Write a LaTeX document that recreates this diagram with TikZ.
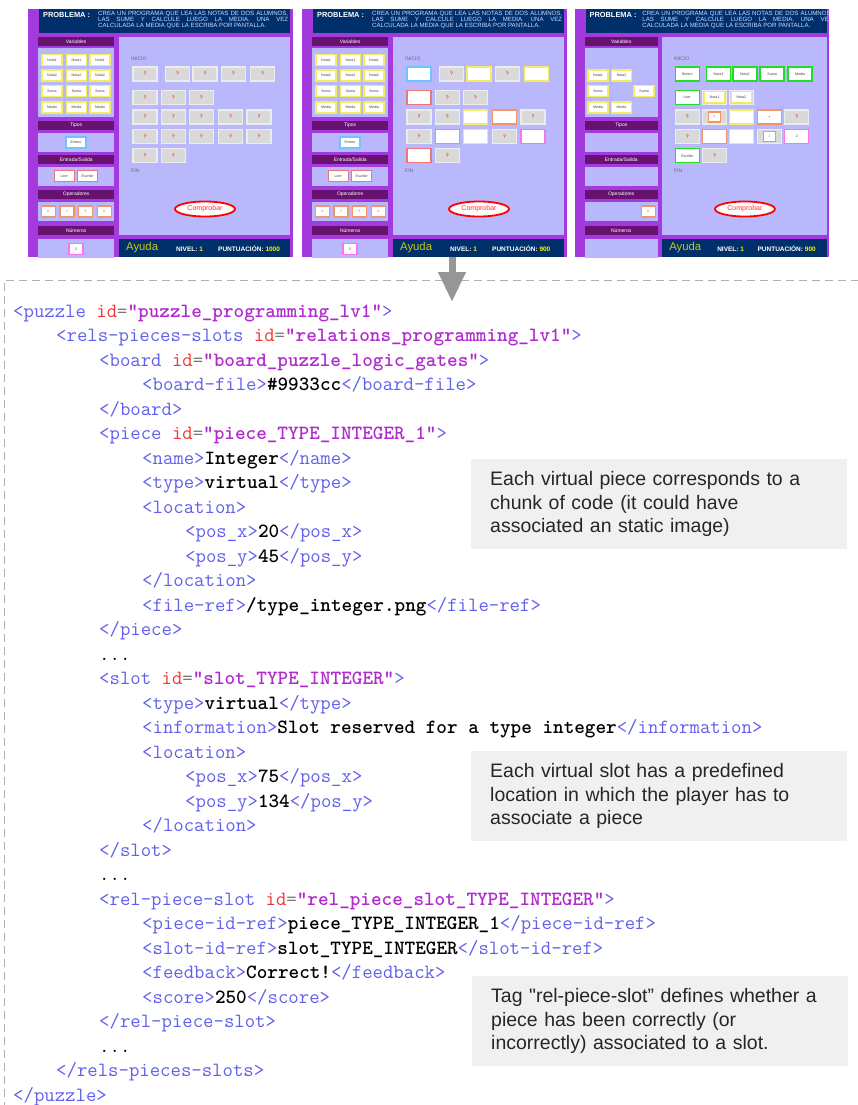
\documentclass[tikz,border=0pt]{standalone}
\usepackage{fontspec}
\setmainfont{Liberation Sans}
\usetikzlibrary{arrows.meta}
\usetikzlibrary{positioning}
\usetikzlibrary{shapes.geometric}

\definecolor{scrpurple}{RGB}{163,58,222}
\definecolor{scrnavy}{RGB}{0,48,108}
\definecolor{scrhead}{RGB}{104,18,112}
\definecolor{scrlav}{RGB}{186,184,252}
\definecolor{probblue}{RGB}{205,220,255}
\definecolor{ayudacol}{RGB}{196,200,20}
\definecolor{varyel}{RGB}{246,236,96}
\definecolor{tipblue}{RGB}{110,196,255}
\definecolor{iored}{RGB}{238,118,118}
\definecolor{oporange}{RGB}{244,148,100}
\definecolor{numpink}{RGB}{248,116,240}
\definecolor{okgreen}{RGB}{34,222,34}
\definecolor{tagcol}{RGB}{96,96,236}
\definecolor{idcol}{RGB}{244,52,52}
\definecolor{valcol}{RGB}{176,42,206}
\definecolor{eqgray}{RGB}{120,120,120}
\definecolor{notegray}{RGB}{240,240,240}
\definecolor{arrgray}{RGB}{150,150,150}

\tikzset{
  hdrtext/.style={inner sep=0pt, text=white, font=\fontsize{5}{5}\selectfont},
  smalltext/.style={anchor=west, inner sep=0pt, text=black!60, font=\fontsize{5}{5}\selectfont},
  pc/.style={draw=#1, fill=white, line width=1.3pt, minimum height=11pt, inner sep=0pt,
    text=black!75, font=\fontsize{3.6}{4}\selectfont},
  qslot/.style={draw=white!85!gray, line width=1.1pt, fill=gray!30, minimum width=24pt,
    minimum height=14pt, inner sep=0pt, text=red!85!black, font=\fontsize{5}{5}\selectfont},
  checkbtn/.style={ellipse, draw=red, line width=1.8pt, fill=white, minimum width=60pt,
    minimum height=15pt, inner sep=0pt, text=red!80, font=\fontsize{7}{7}\selectfont},
  code/.style={anchor=base west, inner sep=0pt, font=\ttfamily\fontsize{20.2}{22}\selectfont},
  note/.style={anchor=north west, fill=notegray, text width=338pt, inner xsep=19pt,
    inner ysep=0pt, minimum height=90pt, align=left, text=black!85,
    font=\fontsize{19.5}{23.3}\selectfont},
  bigarrow/.style={color=arrgray, line width=7pt, -{Triangle[length=30pt,width=26pt]}}
}

% xml colouring
\newcommand{\tg}[1]{\textcolor{tagcol}{#1}}
\newcommand{\ida}{\textcolor{idcol}{id}\textcolor{eqgray}{=}}
\newcommand{\av}[1]{\textcolor{valcol}{\bfseries"#1"}}
\newcommand{\ct}[1]{\textbf{#1}}

% one screenshot of the game: #1 prefix, #2 left x, #3 xscale, #4 score, #5 panel pieces (macro)
\newcommand{\gamescreen}[5]{%
  \begin{scope}[shift={(#2,9)}, xscale=#3]
    \clip (0,0) rectangle (265,248);
    \fill[scrpurple] (0,0) rectangle (265,248);
    \fill[scrnavy] (11,0) rectangle (262,24);
    \node[anchor=west, inner sep=0pt, text=white, font=\fontsize{7.4}{8}\selectfont\bfseries] (#1-prob) at (15,5.5) {PROBLEMA :};
    \node[anchor=north west, inner sep=0pt, align=left, text=probblue, font=\fontsize{6.1}{6}\selectfont] (#1-task) at (70,1.6)
      {\makebox[190pt][s]{CREA UN PROGRAMA QUE LEA LAS NOTAS DE DOS ALUMNOS,}\\
       \makebox[190pt][s]{LAS SUME Y CALCULE LUEGO LA MEDIA. UNA VEZ}\\
       CALCULADA LA MEDIA QUE LA ESCRIBA POR PANTALLA.};
    % left panel
    \foreach \hy/\by/\bh/\hl [count=\i] in {28/39.3/68.7/Variables, 111.7/124.3/18.4/Tipos,
        146/157.7/19.3/{Entrada/Salida}, 181/192.7/19.6/Operadores, 217/229.7/20/Números} {
      \fill[scrhead] (10.3,\hy) rectangle (86,\hy+9);
      \fill[scrlav] (10.3,\by) rectangle (86,\by+\bh);
      \node[hdrtext] (#1-h\i) at (48.2,\hy+4.5) {\hl};
    }
    \foreach \px/\py/\pc/\pw/\pl [count=\i] in #5
      \node[pc=\pc, minimum width=\pw pt] (#1-v\i) at (\px,\py) {\pl};
    % program area
    \fill[scrlav] (91,28.3) rectangle (262,226);
    \node[smalltext] (#1-start) at (103,50) {INICIO};
    \node[smalltext] (#1-end) at (103,162) {FIN};
    \node[smalltext] (#1-semi) at (131.5,68) {;};
    \node[checkbtn] (#1-check) at (177,200) {Comprobar};
    % status bar
    \fill[scrnavy] (91,229.7) rectangle (262,248);
    \node[anchor=west, inner sep=0pt, text=ayudacol, font=\fontsize{11.3}{12}\selectfont] (#1-help) at (98,239) {Ayuda};
    \node[anchor=west, inner sep=0pt, text=white, font=\fontsize{6.5}{7}\selectfont\bfseries] (#1-level) at (148,240) {NIVEL: \textcolor{yellow}{1}};
    \node[anchor=west, inner sep=0pt, text=white, font=\fontsize{6.5}{7}\selectfont\bfseries] (#1-score) at (190,240) {PUNTUACIÓN: \textcolor{yellow}{#4}};
    \coordinate (#1-foot) at (150,248);
  \end{scope}}

% empty program slots: #1 prefix, #2 left x, #3 xscale, #4 list (macro)
\newcommand{\freeslots}[4]{%
  \begin{scope}[shift={(#2,9)}, xscale=#3]
    \foreach \sx/\sy/\sl [count=\i] in #4
      \node[qslot] (#1-s\i) at (\sx,\sy) {\sl};
  \end{scope}}

% pieces dropped on the program slots: #1 prefix, #2 left x, #3 xscale, #4 list (macro)
\newcommand{\placed}[4]{%
  \begin{scope}[shift={(#2,9)}, xscale=#3]
    \foreach \px/\py/\pc/\pw/\ph/\pl [count=\i] in #4
      \node[pc=\pc, minimum width=\pw pt, minimum height=\ph pt] (#1-f\i) at (\px,\py) {\pl};
  \end{scope}}

\newcommand{\fullpanel}{24/51/varyel/20/Nota1, 48.5/51/varyel/20/Nota1, 72/51/varyel/20/Nota1,
  24/66.5/varyel/20/Nota2, 48.5/66.5/varyel/20/Nota2, 72/66.5/varyel/20/Nota2,
  24/82/varyel/20/Suma, 48.5/82/varyel/20/Suma, 72/82/varyel/20/Suma,
  24/98.5/varyel/20/Media, 48.5/98.5/varyel/20/Media, 72/98.5/varyel/20/Media,
  48/133.5/tipblue/20/Entero, 36.3/167.3/iored/20/Leer, 59.7/167.3/iored/20/Escribir,
  20.3/202.5/oporange/14/=, 39/202.5/oporange/14/{/}, 57.7/202.5/oporange/14/+, 76.3/202.5/oporange/14/=,
  48/240/numpink/14/2}
\newcommand{\lastpanel}{24/66.5/varyel/20/Nota1, 48.5/66.5/varyel/20/Nota2,
  24/82/varyel/20/Suma, 72/82/varyel/20/Suma, 24/98.5/varyel/20/Media, 48.5/98.5/varyel/20/Media,
  76.3/202.5/oporange/14/=}
\newcommand{\allslots}{117/65/?, 149.5/65/?, 177/65/?, 205.3/65/?, 234.5/65/?,
  117/88.3/?, 145.3/88.3/?, 173.3/88.3/?,
  117/108/?, 145.3/108/?, 173.3/108/?, 202.5/108/?, 231/108/?,
  117/127.3/?, 145.3/127.3/?, 173.3/127.3/?, 202.5/127.3/?, 231/127.3/?,
  117/146.8/?, 145.3/146.8/?}
\newcommand{\midfree}{149.5/65/?, 205.3/65/?, 145.3/88.3/?, 173.3/88.3/?,
  117/108/?, 145.3/108/?, 231/108/?, 117/127.3/?, 202.5/127.3/?, 145.3/146.8/?}
\newcommand{\midslots}{117/65/tipblue/24/14/{}, 177/65/varyel/24/14/{}, 234.5/65/varyel/24/14/{},
  117/88.3/iored/24/14/{}, 173.3/108/varyel/24/14/{}, 202.5/108/oporange/24/14/{},
  145.3/127.3/oporange/24/14/{}, 173.3/127.3/varyel/24/14/{}, 231/127.3/numpink/24/14/{},
  117/146.8/iored/24/14/{}}
\newcommand{\lastfree}{145.3/88.3/{}, 173.3/88.3/{}, 117/108/?, 145.3/108/{}, 231/108/?,
  117/127.3/?, 202.5/127.3/{}, 145.3/146.8/?}
\newcommand{\lastslots}{117/65/okgreen/24/14/Entero, 149.5/65/okgreen/24/14/Nota1,
  177/65/okgreen/24/14/Nota2, 205.3/65/okgreen/24/14/Suma, 234.5/65/okgreen/24/14/Media,
  117/88.3/okgreen/24/14/Leer, 145.3/88.3/varyel/20/11/Nota1, 173.3/88.3/varyel/20/11/Nota2,
  145.3/108/oporange/12/10/=, 173.3/108/varyel/24/14/{}, 202.5/108/oporange/24/14/+,
  145.3/127.3/oporange/24/14/{}, 173.3/127.3/varyel/24/14/{}, 202.5/127.3/oporange/12/10/{/},
  231/127.3/numpink/24/14/2, 117/146.8/okgreen/24/14/Escribir}

\begin{document}
\begin{tikzpicture}[x=1pt, y=-1pt]
  \useasboundingbox (0,0) rectangle (858,1105);
  \fill[white] (0,0) rectangle (858,1105);

  % the three screenshots
  \gamescreen{a}{28}{1}{1000}{\fullpanel}
  \freeslots{a}{28}{1}{\allslots}
  \gamescreen{b}{302}{1}{900}{\fullpanel}
  \freeslots{b}{302}{1}{\midfree}
  \placed{b}{302}{1}{\midslots}
  \gamescreen{c}{575}{0.96}{900}{\lastpanel}
  \freeslots{c}{575}{0.96}{\lastfree}
  \placed{c}{575}{0.96}{\lastslots}

  % dashed frame round the xml
  \draw[arrgray!75, line width=0.9pt, dash pattern=on 8pt off 5pt] (4,1110) -- (4,280) -- (870,280);
  \coordinate (codetop) at (452,302);
  \draw[bigarrow] (b-foot) -- (codetop);

  % xml file
  \node[code] (l1) at (13,317) {\tg{<puzzle} \ida\av{puzzle\_programming\_lv1}\tg{>}};
  \node[code] (l2) at (13+43,341.5) {\tg{<rels-pieces-slots} \ida\av{relations\_programming\_lv1}\tg{>}};
  \node[code] (l3) at (13+86,366) {\tg{<board} \ida\av{board\_puzzle\_logic\_gates}\tg{>}};
  \node[code] (l4) at (13+129,390.5) {\tg{<board-file>}\ct{\#9933cc}\tg{</board-file>}};
  \node[code] (l5) at (13+86,415) {\tg{</board>}};
  \node[code] (l6) at (13+86,439.5) {\tg{<piece} \ida\av{piece\_TYPE\_INTEGER\_1}\tg{>}};
  \node[code] (l7) at (13+129,464) {\tg{<name>}\ct{Integer}\tg{</name>}};
  \node[code] (l8) at (13+129,488.5) {\tg{<type>}\ct{virtual}\tg{</type>}};
  \node[code] (l9) at (13+129,513) {\tg{<location>}};
  \node[code] (l10) at (13+172,537.5) {\tg{<pos\_x>}\ct{20}\tg{</pos\_x>}};
  \node[code] (l11) at (13+172,562) {\tg{<pos\_y>}\ct{45}\tg{</pos\_y>}};
  \node[code] (l12) at (13+129,586.5) {\tg{</location>}};
  \node[code] (l13) at (13+129,611) {\tg{<file-ref>}\ct{/type\_integer.png}\tg{</file-ref>}};
  \node[code] (l14) at (13+86,635.5) {\tg{</piece>}};
  \node[code] (l15) at (13+86,660) {...};
  \node[code] (l16) at (13+86,684.5) {\tg{<slot} \ida\av{slot\_TYPE\_INTEGER}\tg{>}};
  \node[code] (l17) at (13+129,709) {\tg{<type>}\ct{virtual}\tg{</type>}};
  \node[code] (l18) at (13+129,733.5) {\tg{<information>}\ct{Slot reserved for a type integer}\tg{</information>}};
  \node[code] (l19) at (13+129,758) {\tg{<location>}};
  \node[code] (l20) at (13+172,782.5) {\tg{<pos\_x>}\ct{75}\tg{</pos\_x>}};
  \node[code] (l21) at (13+172,807) {\tg{<pos\_y>}\ct{134}\tg{</pos\_y>}};
  \node[code] (l22) at (13+129,831.5) {\tg{</location>}};
  \node[code] (l23) at (13+86,856) {\tg{</slot>}};
  \node[code] (l24) at (13+86,880.5) {...};
  \node[code] (l25) at (13+86,905) {\tg{<rel-piece-slot} \ida\av{rel\_piece\_slot\_TYPE\_INTEGER}\tg{>}};
  \node[code] (l26) at (13+129,929.5) {\tg{<piece-id-ref>}\ct{piece\_TYPE\_INTEGER\_1}\tg{</piece-id-ref>}};
  \node[code] (l27) at (13+129,954) {\tg{<slot-id-ref>}\ct{slot\_TYPE\_INTEGER}\tg{</slot-id-ref>}};
  \node[code] (l28) at (13+129,978.5) {\tg{<feedback>}\ct{Correct!}\tg{</feedback>}};
  \node[code] (l29) at (13+129,1003) {\tg{<score>}\ct{250}\tg{</score>}};
  \node[code] (l30) at (13+86,1027.5) {\tg{</rel-piece-slot>}};
  \node[code] (l31) at (13+86,1052) {...};
  \node[code] (l32) at (13+43,1076.5) {\tg{</rels-pieces-slots>}};
  \node[code] (l33) at (13,1101) {\tg{</puzzle>}};

  % side notes
  \node[note] (n1) at (471,459) {Each virtual piece corresponds to a\\chunk of code (it could have\\associated an static image)};
  \node[note] (n2) at (471,751) {Each virtual slot has a predefined\\location in which the player has to\\associate a piece};
  \node[note] (n3) at (472,976) {Tag \textquotedbl rel-piece-slot” defines whether a\\piece has been correctly (or\\incorrectly) associated to a slot.};
\end{tikzpicture}
\end{document}
